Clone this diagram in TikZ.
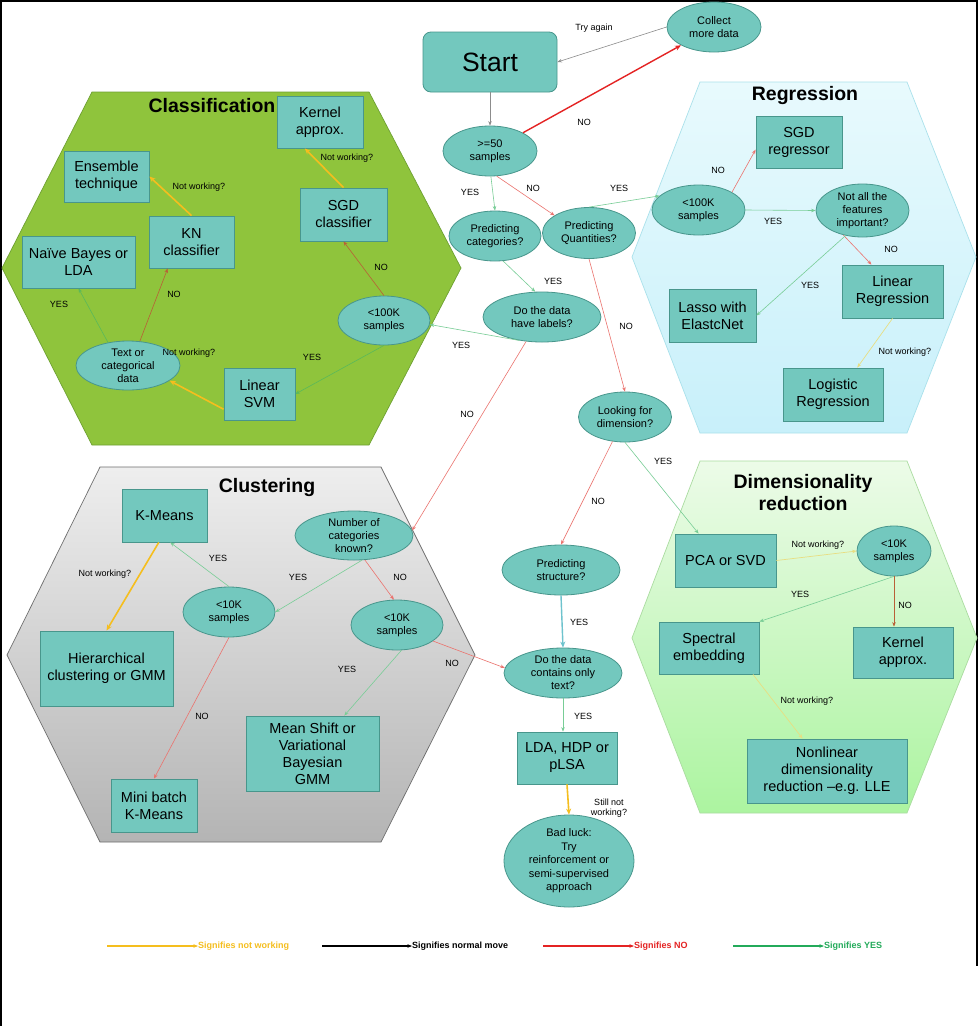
\documentclass[tikz,border=0pt]{standalone}
\usepackage{fontspec}
\setmainfont{Liberation Sans}
\usetikzlibrary{shapes.geometric,arrows.meta,calc}
\definecolor{tealfill}{RGB}{115,200,190}
\definecolor{tealdraw}{RGB}{72,150,140}
\definecolor{clsgreen}{RGB}{143,196,60}
\definecolor{clsborder}{RGB}{110,160,50}
\definecolor{regtop}{RGB}{232,250,253}
\definecolor{regbot}{RGB}{200,240,250}
\definecolor{regborder}{RGB}{170,225,235}
\definecolor{clutop}{RGB}{238,238,238}
\definecolor{clubot}{RGB}{180,180,180}
\definecolor{cluborder}{RGB}{110,110,110}
\definecolor{dimtop}{RGB}{236,251,232}
\definecolor{dimbot}{RGB}{172,244,160}
\definecolor{dimborder}{RGB}{170,220,160}
\definecolor{yesg}{RGB}{120,205,150}
\definecolor{yescl}{RGB}{90,185,90}
\definecolor{nor}{RGB}{235,115,110}
\definecolor{nocl}{RGB}{185,95,55}
\definecolor{nwcol}{RGB}{245,190,30}
\definecolor{nwthin}{RGB}{232,222,130}
\definecolor{grayarr}{RGB}{140,140,140}
\definecolor{redthick}{RGB}{228,35,35}
\definecolor{tealarr}{RGB}{110,195,205}
\definecolor{legyes}{RGB}{35,170,90}
\begin{document}
\begin{tikzpicture}[x=1pt,y=-1pt,
  box/.style={draw=tealdraw, fill=tealfill, rectangle, inner sep=1pt, align=center,
    font=\fontsize{14.5}{17}\selectfont, line width=0.8pt},
  oval/.style={draw=tealdraw, fill=tealfill, ellipse, inner sep=0pt, align=center,
    font=\fontsize{11}{13}\selectfont, line width=0.8pt},
  lbl/.style={font=\fontsize{9}{10.5}\selectfont, inner sep=0pt, align=center},
  ttl/.style={font=\bfseries\fontsize{19.5}{22}\selectfont, align=center, inner sep=0pt},
  leg/.style={font=\bfseries\fontsize{9}{10.5}\selectfont, inner sep=0pt, anchor=west},
  arr/.style={-{Stealth[length=4.5pt,width=3.5pt]}},
  arrb/.style={-{Stealth[length=6pt,width=5pt]}},
  yes/.style={arr, draw=yesg, line width=0.6pt},
  yescls/.style={arr, draw=yescl, line width=0.6pt},
  nol/.style={arr, draw=nor, line width=0.6pt},
  nocls/.style={arr, draw=nocl, line width=0.6pt},
  nwk/.style={arrb, draw=nwcol, line width=1.6pt},
  nwkthin/.style={arr, draw=nwthin, line width=0.7pt},
  grayl/.style={arr, draw=grayarr, line width=0.6pt},
  redl/.style={arrb, draw=redthick, line width=1.4pt},
  teall/.style={arrb, draw=tealarr, line width=1.4pt},
  legl/.style={arr, line width=1.5pt}
]
\useasboundingbox (0,0) rectangle (978,1026);
\fill[white] (0,0) rectangle (978,1026);
\draw[black, line width=2pt] (1,1026) -- (1,1) -- (977,1) -- (977,966);

% hexagons
\filldraw[fill=clsgreen, draw=clsborder, line width=0.7pt]
  (92,92) -- (369,92) -- (461,268) -- (369,445) -- (92,445) -- (2,268) -- cycle;
\shade[top color=regtop, bottom color=regbot]
  (700,82) -- (907,82) -- (976,257) -- (907,433) -- (700,433) -- (632,257) -- cycle;
\draw[regborder, line width=0.7pt]
  (700,82) -- (907,82) -- (976,257) -- (907,433) -- (700,433) -- (632,257) -- cycle;
\shade[top color=clutop, bottom color=clubot]
  (100,467) -- (381,467) -- (475,655) -- (381,842) -- (100,842) -- (7,655) -- cycle;
\draw[cluborder, line width=0.7pt]
  (100,467) -- (381,467) -- (475,655) -- (381,842) -- (100,842) -- (7,655) -- cycle;
\shade[top color=dimtop, bottom color=dimbot]
  (700,461) -- (907,461) -- (977,638) -- (907,813) -- (700,813) -- (632,638) -- cycle;
\draw[dimborder, line width=0.7pt]
  (700,461) -- (907,461) -- (977,638) -- (907,813) -- (700,813) -- (632,638) -- cycle;

% titles
\node[ttl] (tcls) at (212,106) {Classification};
\node[ttl] (treg) at (805,95) {Regression};
\node[ttl] (tclu) at (267,487) {Clustering};
\node[ttl] (tdim) at (803,493) {Dimensionality\\reduction};

% main flow
\node[box, rounded corners=8pt, minimum width=134pt, minimum height=60pt,
  font=\fontsize{26.5}{30}\selectfont] (start) at (490,62) {Start};
\node[oval, minimum width=94pt, minimum height=50pt] (collect) at (714,27) {Collect\\more data};
\node[oval, minimum width=94pt, minimum height=50pt] (ge50) at (490,151) {>=50\\samples};
\node[oval, minimum width=92pt, minimum height=50pt] (predcat) at (495,236) {Predicting\\categories?};
\node[oval, minimum width=93pt, minimum height=51pt] (predquant) at (589,233) {Predicting\\Quantities?};
\node[oval, minimum width=118pt, minimum height=50pt] (labels) at (542,317) {Do the data\\have labels?};
\node[oval, minimum width=93pt, minimum height=50pt] (looking) at (625,417) {Looking for\\dimension?};
\node[oval, minimum width=118pt, minimum height=50pt] (predstruct) at (561,570) {Predicting\\structure?};
\node[oval, minimum width=118pt, minimum height=50pt] (datatext) at (563,673) {Do the data\\contains only\\text?};
\node[box, minimum width=100pt, minimum height=52pt] (lda) at (567,758) {LDA, HDP or\\pLSA};
\node[oval, minimum width=130pt, minimum height=92pt, font=\fontsize{11}{13.5}\selectfont] (badluck) at (569,861)
  {Bad luck:\\Try\\reinforcement or\\semi-supervised\\approach};

% classification
\node[box, minimum width=86pt, minimum height=52pt] (kernelc) at (320,122) {Kernel\\approx.};
\node[box, minimum width=85pt, minimum height=51pt] (ensemble) at (106.5,176.5) {Ensemble\\technique};
\node[box, minimum width=85pt, minimum height=52pt] (kn) at (191.5,242) {KN\\classifier};
\node[box, minimum width=87pt, minimum height=53pt] (sgdc) at (343.5,214.5) {SGD\\classifier};
\node[box, minimum width=113pt, minimum height=52pt] (nb) at (78.5,262) {Naïve Bayes or\\LDA};
\node[oval, minimum width=92pt, minimum height=49pt] (c100) at (384,320.5) {<100K\\samples};
\node[oval, minimum width=104pt, minimum height=49pt] (textcat) at (128,365.5) {Text or\\categorical\\data};
\node[box, minimum width=71pt, minimum height=52pt] (linsvm) at (259.5,394) {Linear\\SVM};

% regression
\node[box, minimum width=86pt, minimum height=52pt] (sgdr) at (799,142) {SGD\\regressor};
\node[oval, minimum width=93pt, minimum height=50pt] (reg100) at (698.5,210) {<100K\\samples};
\node[oval, minimum width=93pt, minimum height=53pt] (notall) at (862.5,210.5) {Not all the\\features\\important?};
\node[box, minimum width=101pt, minimum height=53pt] (linreg) at (892.5,291.5) {Linear\\Regression};
\node[box, minimum width=87pt, minimum height=53pt] (lasso) at (712.5,315.5) {Lasso with\\ElastcNet};
\node[box, minimum width=100pt, minimum height=53pt] (logreg) at (833,394.5) {Logistic\\Regression};

% clustering
\node[box, minimum width=85pt, minimum height=53pt] (kmeans) at (164.5,515.5) {K-Means};
\node[oval, minimum width=118pt, minimum height=49pt] (numcat) at (354,535.5) {Number of\\categories\\known?};
\node[oval, minimum width=92pt, minimum height=50pt] (l10) at (229,612) {<10K\\samples};
\node[oval, minimum width=92pt, minimum height=50pt] (r10) at (397,625) {<10K\\samples};
\node[box, minimum width=133pt, minimum height=75pt] (hier) at (106.5,668.5) {Hierarchical\\clustering or GMM};
\node[box, minimum width=133pt, minimum height=75pt] (meanshift) at (312.5,753.5) {Mean Shift or\\Variational\\Bayesian\\GMM};
\node[box, minimum width=86pt, minimum height=53pt] (minib) at (154,805.5) {Mini batch\\K-Means};

% dimensionality
\node[box, minimum width=101pt, minimum height=53pt] (pca) at (725.5,560.5) {PCA or SVD};
\node[oval, minimum width=74pt, minimum height=50pt] (d10) at (894,551) {<10K\\samples};
\node[box, minimum width=100pt, minimum height=52pt] (spectral) at (709,648) {Spectral\\embedding};
\node[box, minimum width=100pt, minimum height=51pt] (kerneld) at (903,652.5) {Kernel\\approx.};
\node[box, minimum width=160pt, minimum height=64pt] (nonlin) at (827,771) {Nonlinear\\dimensionality\\reduction –e.g. LLE};

% connectors main
\draw[grayl] (collect.west) -- (start.east);
\draw[redl] (ge50) -- (collect);
\draw[grayl] (start.south) -- (ge50.north);
\draw[yes] (ge50.-88) -- (predcat.north);
\draw[nol] (ge50.-75) -- (predquant.153);
\draw[yes] (predquant.north) -- (reg100.160);
\draw[yes] (predcat.-72) -- (labels.105);
\draw[yes] (labels.226) -- (c100.-5);
\draw[nol] (labels.237) -- (numcat.5);
\draw[nol] (predquant.south) -- (looking.north);
\draw[yes] (looking.south) -- (pca.135);
\draw[nol] (looking.243) -- (predstruct.north);
\draw[teall] (predstruct.south) -- (datatext.north);
\draw[yes] (datatext.south) -- (datatext.south |- lda.north);
\draw[nwk] (lda.south) -- (badluck.north);
\draw[nol] (r10.-24) -- (datatext.175);

% classification connectors
\draw[nwk] (sgdc.north) -- (kernelc.240);
\draw[nocls] (c100.north) -- (sgdc.south);
\draw[yescls] (c100.south) -- (linsvm.east);
\draw[nwk] (linsvm.203) -- (textcat.-20);
\draw[nocls] (textcat.64) -- (kn.228);
\draw[yescls] (textcat.131) -- (nb.south);
\draw[nwk] (kn.north) -- (ensemble.east);

% regression connectors
\draw[nol] (reg100.28) -- (sgdr.190);
\draw[yes] (reg100.east) -- (notall.west);
\draw[nol] (notall.232) -- (linreg.128);
\draw[yes] (notall.236) -- (lasso.east);
\draw[nwkthin] (linreg.south) -- (logreg.48);

% clustering connectors
\draw[yes] (numcat.-72) -- (l10.east);
\draw[nol] (numcat.-66) -- (r10.97);
\draw[yes] (l10.north) -- (kmeans.-78);
\draw[nol] (l10.south) -- (minib.north);
\draw[nwk] (kmeans.-102) -- (hier.north);
\draw[yes] (r10.-80) -- (meanshift.50);

% dimensionality connectors
\draw[nwkthin] (pca.east) -- (d10.west);
\draw[yes] (d10.south) -- (spectral.north east);
\draw[nocls] (d10.south) -- (d10.south |- kerneld.north);
\draw[nwkthin] (spectral.-31) -- (nonlin.127);

% labels main
\node[lbl] (l1) at (594,28) {Try again};
\node[lbl] (l2) at (584,122) {NO};
\node[lbl] (l3) at (470,192) {YES};
\node[lbl] (l4) at (533,188) {NO};
\node[lbl] (l5) at (619,188) {YES};
\node[lbl] (l6) at (553,281) {YES};
\node[lbl] (l7) at (461,345) {YES};
\node[lbl] (l8) at (467,414) {NO};
\node[lbl] (l9) at (626,326) {NO};
\node[lbl] (l10l) at (663,461) {YES};
\node[lbl] (l11) at (598,501) {NO};
\node[lbl] (l12) at (579,622) {YES};
\node[lbl] (l13) at (583,716) {YES};
\node[lbl] (l14) at (609,808) {Still not\\working?};
% labels classification
\node[lbl] (c1) at (347,158) {Not working?};
\node[lbl] (c2) at (381,267) {NO};
\node[lbl] (c3) at (312,357) {YES};
\node[lbl] (c4) at (189,353) {Not working?};
\node[lbl] (c5) at (174,294) {NO};
\node[lbl] (c6) at (59,304) {YES};
\node[lbl] (c7) at (199,187) {Not working?};
% labels regression
\node[lbl] (r1) at (718,170) {NO};
\node[lbl] (r2) at (773,221) {YES};
\node[lbl] (r3) at (891,249) {NO};
\node[lbl] (r4) at (810,285) {YES};
\node[lbl] (r5) at (905,352) {Not working?};
% labels clustering
\node[lbl] (k1) at (298,577) {YES};
\node[lbl] (k2) at (400,577) {NO};
\node[lbl] (k3) at (218,558) {YES};
\node[lbl] (k4) at (202,716) {NO};
\node[lbl] (k5) at (105,574) {Not working?};
\node[lbl] (k6) at (347,669) {YES};
\node[lbl] (k7) at (452,663) {NO};
% labels dimensionality
\node[lbl] (d1) at (818,545) {Not working?};
\node[lbl] (d2) at (800,594) {YES};
\node[lbl] (d3) at (905,605) {NO};
\node[lbl] (d4) at (807,701) {Not working?};

% legend
\coordinate (lga) at (107,946);
\node[leg, text=nwcol] (lgat) at (198,946) {Signifies not working};
\draw[legl, draw=nwcol] (lga) -- (lgat.west);
\coordinate (lgb) at (322,946);
\node[leg, text=black] (lgbt) at (412,946) {Signifies normal move};
\draw[legl, draw=black] (lgb) -- (lgbt.west);
\coordinate (lgc) at (543,946);
\node[leg, text=redthick] (lgct) at (634,946) {Signifies NO};
\draw[legl, draw=redthick] (lgc) -- (lgct.west);
\coordinate (lgd) at (733,946);
\node[leg, text=legyes] (lgdt) at (824,946) {Signifies YES};
\draw[legl, draw=legyes] (lgd) -- (lgdt.west);
\end{tikzpicture}
\end{document}
